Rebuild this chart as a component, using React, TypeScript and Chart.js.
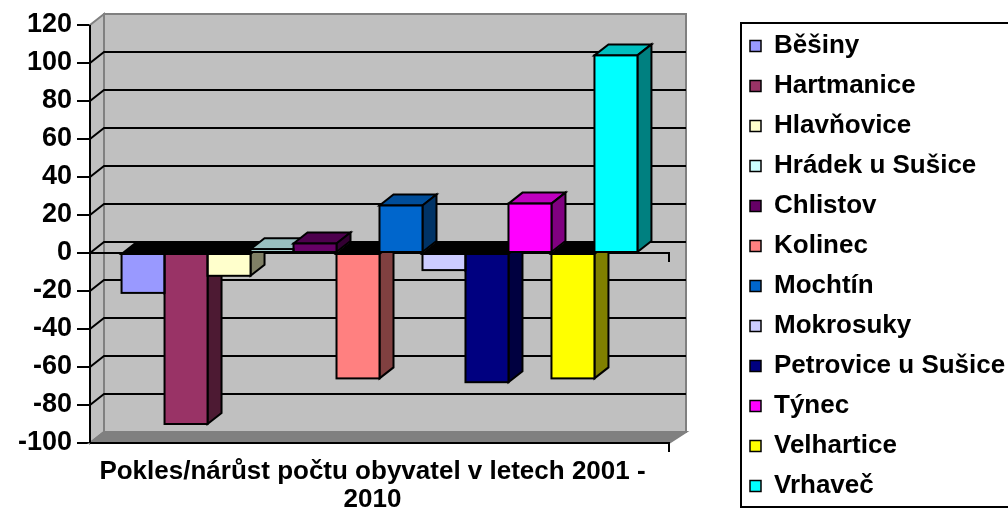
import React, { useEffect, useRef } from 'react';
import { Chart, registerables } from 'chart.js';

Chart.register(...registerables);

// ---- data ----
const categories = [['Pokles/nárůst počtu obyvatel v letech 2001 -', '2010']];
const seriesNames = [
  'Běšiny',
  'Hartmanice',
  'Hlavňovice',
  'Hrádek u Sušice',
  'Chlistov',
  'Kolinec',
  'Mochtín',
  'Mokrosuky',
  'Petrovice u Sušice',
  'Týnec',
  'Velhartice',
  'Vrhaveč',
];
const seriesValues = [-21, -90, -12, 2, 5, -66, 25, -9, -68, 26, -66, 104];
const seriesColors = [
  '#9999FF',
  '#993366',
  '#FFFFCC',
  '#CCFFFF',
  '#660066',
  '#FF8080',
  '#0066CC',
  '#CCCCFF',
  '#000080',
  '#FF00FF',
  '#FFFF00',
  '#00FFFF',
];
const yMin = -100;
const yMax = 120;
const yStep = 20;

// ---- 3D look ----
const DX = 14;
const DY = 11;

function shade(hex: string, f: number): string {
  const h = hex.replace('#', '');
  const r = Math.round(parseInt(h.slice(0, 2), 16) * f);
  const g = Math.round(parseInt(h.slice(2, 4), 16) * f);
  const b = Math.round(parseInt(h.slice(4, 6), 16) * f);
  return `rgb(${r},${g},${b})`;
}

function poly(ctx: CanvasRenderingContext2D, pts: number[][], fill: string | null, stroke: string | null, lw = 2) {
  ctx.beginPath();
  ctx.moveTo(pts[0][0], pts[0][1]);
  for (let i = 1; i < pts.length; i++) ctx.lineTo(pts[i][0], pts[i][1]);
  ctx.closePath();
  if (fill) {
    ctx.fillStyle = fill;
    ctx.fill();
  }
  if (stroke) {
    ctx.strokeStyle = stroke;
    ctx.lineWidth = lw;
    ctx.stroke();
  }
}

function line(ctx: CanvasRenderingContext2D, pts: number[][]) {
  ctx.beginPath();
  ctx.moveTo(pts[0][0], pts[0][1]);
  for (let i = 1; i < pts.length; i++) ctx.lineTo(pts[i][0], pts[i][1]);
  ctx.stroke();
}

const excel3d = {
  id: 'excel3d',
  beforeDatasetsDraw(chart: any) {
    const ctx: CanvasRenderingContext2D = chart.ctx;
    const { left: L, right: R, top: T, bottom: B } = chart.chartArea;
    const ys = chart.scales.y;
    ctx.save();
    ctx.lineJoin = 'miter';
    // back wall, side wall, floor
    poly(ctx, [[L + DX, T - DY], [R + DX + 3, T - DY], [R + DX + 3, B - DY], [L + DX, B - DY]], '#C0C0C0', '#808080', 2);
    poly(ctx, [[L, T], [L + DX, T - DY], [L + DX, B - DY], [L, B]], '#C0C0C0', '#808080', 2);
    poly(ctx, [[L, B], [L + DX, B - DY], [R + DX + 3, B - DY], [R, B]], '#808080', '#808080', 2);
    // gridlines
    ctx.strokeStyle = '#000';
    ctx.lineWidth = 2;
    ys.ticks.forEach((t: any) => {
      if (t.value <= yMin || t.value >= yMax) return;
      const py = ys.getPixelForValue(t.value);
      line(ctx, [[L, py], [L + DX, py - DY], [R + DX + 3, py - DY]]);
    });
    // axes
    const y0 = ys.getPixelForValue(0);
    line(ctx, [[L, T], [L, B]]);
    line(ctx, [[L, y0], [R, y0], [R, y0 + 9]]);
    line(ctx, [[L, B], [R, B], [R, B + 9]]);
    // depth faces of bars
    chart.data.datasets.forEach((ds: any, i: number) => {
      const meta = chart.getDatasetMeta(i);
      if (meta.hidden) return;
      meta.data.forEach((bar: any, j: number) => {
        const { x, y, base, width } = bar.getProps(['x', 'y', 'base', 'width'], true);
        const l = x - width / 2;
        const r = x + width / 2;
        const v = ds.data[j];
        const top = Math.min(y, base);
        const bot = Math.max(y, base);
        const col = ds.backgroundColor as string;
        const topCol = v >= 0 ? shade(col, 0.75) : '#000';
        poly(ctx, [[l, top], [l + DX, top - DY], [r + DX, top - DY], [r, top]], topCol, '#000', 2);
        poly(ctx, [[r, top], [r + DX, top - DY], [r + DX, bot - DY], [r, bot]], shade(col, 0.5), '#000', 2);
      });
    });
    ctx.restore();
  },
  afterDatasetsDraw(chart: any) {
    const ctx: CanvasRenderingContext2D = chart.ctx;
    ctx.save();
    ctx.strokeStyle = '#000';
    ctx.lineWidth = 2;
    chart.data.datasets.forEach((_ds: any, i: number) => {
      const meta = chart.getDatasetMeta(i);
      if (meta.hidden) return;
      meta.data.forEach((bar: any) => {
        const { x, y, base, width } = bar.getProps(['x', 'y', 'base', 'width'], true);
        const top = Math.min(y, base);
        const bot = Math.max(y, base);
        ctx.strokeRect(x - width / 2, top, width, bot - top);
      });
    });
    ctx.restore();
  },
  afterDraw(chart: any) {
    const lg = chart.legend;
    if (!lg) return;
    const ctx: CanvasRenderingContext2D = chart.ctx;
    ctx.save();
    ctx.strokeStyle = '#000';
    ctx.lineWidth = 2;
    ctx.strokeRect(lg.left + 5, lg.top + 8, chart.width, lg.bottom - lg.top - 18);
    ctx.restore();
  },
};

export default function App() {
  const ref = useRef<HTMLCanvasElement>(null);

  useEffect(() => {
    Chart.defaults.font.family = "'Liberation Sans', Arial, sans-serif";
    const datasets = seriesNames.map((name, i) => ({
      label: name,
      data: [seriesValues[i]],
      backgroundColor: seriesColors[i],
      borderColor: '#000',
      borderWidth: 0,
      categoryPercentage: 0.891,
      barPercentage: 1,
    }));
    const chart = new Chart(ref.current as HTMLCanvasElement, {
      type: 'bar',
      data: { labels: categories as any, datasets },
      plugins: [excel3d],
      options: {
        animation: false,
        responsive: false,
        layout: { padding: { top: 15, left: 0, right: 0, bottom: 0 } },
        scales: {
          x: {
            type: 'category',
            position: 'bottom',
            grid: { display: false, drawTicks: false },
            border: { display: false },
            ticks: {
              color: '#000',
              font: { size: 26, weight: 'bold', lineHeight: '28px' } as any,
              padding: 15,
              labelOffset: -7,
              maxRotation: 0,
              autoSkip: false,
            },
            afterFit: (s: any) => {
              s.height = 74;
            },
          },
          y: {
            type: 'linear',
            position: 'left',
            min: yMin,
            max: yMax,
            ticks: {
              stepSize: yStep,
              color: '#000',
              font: { size: 27, weight: 'bold' },
              padding: 5,
            },
            grid: {
              display: true,
              drawOnChartArea: false,
              drawTicks: true,
              tickLength: 13,
              color: '#000',
              lineWidth: 2,
            },
            border: { display: false },
            afterFit: (s: any) => {
              s.width = 90;
            },
          },
          xTop: {
            type: 'linear',
            position: 'top',
            display: true,
            ticks: { display: false },
            grid: { display: false, drawTicks: false },
            border: { display: false },
            afterFit: (s: any) => {
              s.height = 10;
            },
          },
          yRight: {
            type: 'linear',
            position: 'right',
            display: true,
            ticks: { display: false },
            grid: { display: false, drawTicks: false },
            border: { display: false },
            afterFit: (s: any) => {
              s.width = 67;
            },
          },
        } as any,
        plugins: {
          tooltip: { enabled: false },
          legend: {
            position: 'right',
            align: 'center',
            maxWidth: 272,
            labels: {
              color: '#000',
              font: { size: 26, weight: 'bold' },
              boxWidth: 11,
              boxHeight: 11,
              padding: 14,
              generateLabels: (c: any) =>
                (Chart.defaults.plugins.legend.labels.generateLabels as any)(c).map((it: any) => ({
                  ...it,
                  lineWidth: 1.5,
                  strokeStyle: '#000',
                })),
            },
          } as any,
        },
      },
    });
    return () => chart.destroy();
  }, []);

  return (
    <div style={{ position: 'fixed', left: 0, top: 0, width: 1008, height: 517, background: '#fff' }}>
      <canvas ref={ref} width={1008} height={517} style={{ display: 'block', width: 1008, height: 517 }} />
    </div>
  );
}
